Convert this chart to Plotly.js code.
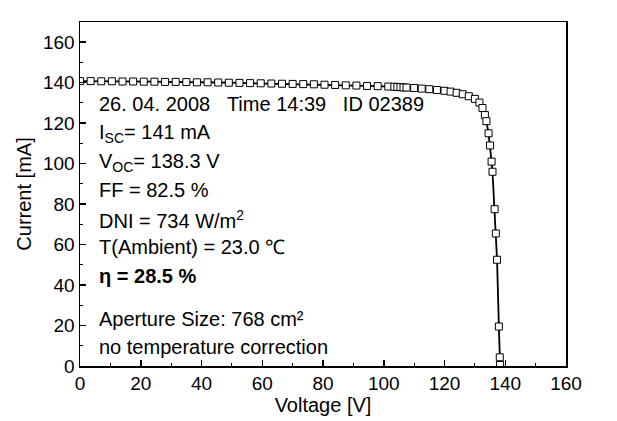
<!DOCTYPE html>
<html>
<head>
<meta charset="utf-8">
<script src="https://cdn.plot.ly/plotly-3.0.1.min.js"></script>
<style>html,body{margin:0;padding:0;background:#fff;}#chart{width:617px;height:421px;}</style>
</head>
<body>
<div id="chart"></div>
<script>
// I-V curve data (Voltage [V], Current [mA])
const voltage = [
  0, 3.5, 7, 10.5, 14, 17.5, 21, 24.5, 28, 31.5,
  35, 38.5, 42, 45.5, 49, 52.5, 56, 59.5, 63, 66.5,
  70, 73.5, 77, 80.5, 84, 87.5, 91, 94.5, 98, 101.5,
  103.5, 104.5, 105.5, 106.5, 107.5,
  110, 112.5, 115, 117.5, 120, 122, 124, 126, 128, 130,
  131.5, 132.5, 133.3, 133.8, 134.5, 135.0, 135.5, 135.8, 136.5, 136.9, 137.3,
  137.9, 138.2, 138.3
];
const current = [
  140.8, 140.8, 140.7, 140.7, 140.6, 140.6, 140.5, 140.5, 140.4, 140.4,
  140.3, 140.2, 140.2, 140.1, 140.0, 139.9, 139.8, 139.7, 139.6, 139.5,
  139.4, 139.3, 139.2, 139.0, 138.9, 138.7, 138.6, 138.4, 138.3, 138.1,
  138.0, 137.9, 137.8, 137.7, 137.6,
  137.4, 137.1, 136.8, 136.4, 136.0, 135.6, 135.0, 134.3, 133.3, 132.0,
  130.2, 127.5, 124.0, 121.0, 115.0, 109.0, 101.0, 96.0, 77.5, 65.5, 52.5,
  19.5, 4.3, 0.5
];
const xTicks = [0, 20, 40, 60, 80, 100, 120, 140, 160];
const yTicks = [0, 20, 40, 60, 80, 100, 120, 140, 160];
const gap = "\u00a0\u00a0\u00a0";
const infoLines = [
  "26. 04. 2008" + gap + "Time 14:39" + gap + "ID 02389",
  "I<sub>SC</sub>= 141 mA",
  "V<sub>OC</sub>= 138.3 V",
  "FF = 82.5 %",
  "DNI = 734 W/m<sup>2</sup>",
  "T(Ambient) = 23.0 \u2103",
  "<b>\u03b7 = 28.5 %</b>",
  "Aperture Size: 768 cm\u00b2",
  "no temperature correction"
];
const infoY = [129.4, 115.1, 100.7, 86.9, 72.6, 58.8, 44.4, 23.2, 9.4];

const font = {family: "Liberation Sans, Arial, sans-serif", color: "#000"};

const trace = {
  x: voltage, y: current, type: "scatter", mode: "lines+markers",
  line: {color: "#000", width: 1.8},
  marker: {symbol: "square", size: 7, color: "#fff", line: {color: "#000", width: 1}},
  hoverinfo: "skip", showlegend: false
};

const annotations = infoLines.map((t, i) => ({
  text: t, x: 5.6, y: infoY[i], xref: "x", yref: "y",
  xanchor: "left", yanchor: "middle", showarrow: false,
  font: Object.assign({}, font, {size: 20})
}));

const axisCommon = {
  showgrid: false, zeroline: false, showline: true, linecolor: "#000", linewidth: 1.5,
  mirror: true, ticks: "inside", ticklen: 6, tickwidth: 1.5, tickcolor: "#000",
  tickfont: Object.assign({}, font, {size: 19}),
  minor: {ticks: "inside", ticklen: 3, tickwidth: 1, tickcolor: "#000", dtick: 10}
};

const layout = {
  width: 617, height: 421,
  margin: {l: 80, r: 51, t: 22, b: 55},
  paper_bgcolor: "#fff", plot_bgcolor: "#fff",
  xaxis: Object.assign({}, axisCommon, {
    range: [0, 160], tickvals: xTicks, ticktext: xTicks.map(String),
    title: {text: "Voltage [V]", font: Object.assign({}, font, {size: 20}), standoff: 2}
  }),
  yaxis: Object.assign({}, axisCommon, {
    range: [0, 170], tickvals: yTicks, ticktext: yTicks.map(String),
    title: {text: "Current [mA]", font: Object.assign({}, font, {size: 20}), standoff: 6}
  }),
  annotations: annotations
};

Plotly.newPlot("chart", [trace], layout, {staticPlot: true, displayModeBar: false});
</script>
</body>
</html>
